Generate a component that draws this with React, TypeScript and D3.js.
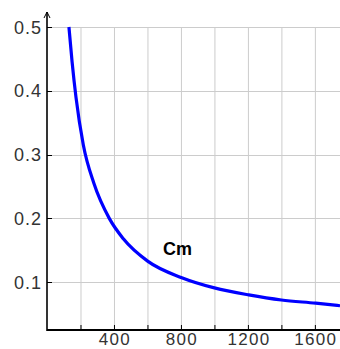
import React, { useRef, useEffect } from 'react';
import * as d3 from 'd3';

// values
const xValues = [131, 150, 173, 217, 280, 372, 456, 601, 805, 1000, 1205, 1400, 1605, 1750];
const cmValues = [0.5, 0.445, 0.39, 0.315, 0.255, 0.2, 0.168, 0.133, 0.107, 0.091, 0.08, 0.072, 0.067, 0.063];

const xGridTicks = [200, 400, 600, 800, 1000, 1200, 1400, 1600];
const xLabelTicks = [400, 800, 1200, 1600];
const yTicks = [0.1, 0.2, 0.3, 0.4, 0.5];
const seriesLabel = 'Cm';

const width = 340;
const height = 349;

const App: React.FC = () => {
  const svgRef = useRef<SVGSVGElement>(null);

  useEffect(() => {
    const svg = d3.select(svgRef.current);
    svg.selectAll('*').remove();

    const xScale = d3.scaleLinear().domain([0, 1750]).range([47, 340]);
    const yScale = d3.scaleLinear().domain([0.025, 0.5]).range([330, 27]);

    const gridColor = '#cccccc';
    const textColor = '#333333';
    const font = '"Liberation Sans", Arial, sans-serif';

    // Grid lines
    svg.selectAll('.grid-x')
      .data(xGridTicks)
      .enter()
      .append('line')
      .attr('x1', d => xScale(d) + 0.5)
      .attr('x2', d => xScale(d) + 0.5)
      .attr('y1', yScale(0.5))
      .attr('y2', yScale.range()[0])
      .attr('stroke', gridColor)
      .attr('stroke-width', 1);

    svg.selectAll('.grid-y')
      .data(yTicks)
      .enter()
      .append('line')
      .attr('x1', xScale(0))
      .attr('x2', width)
      .attr('y1', d => Math.round(yScale(d)) + 0.5)
      .attr('y2', d => Math.round(yScale(d)) + 0.5)
      .attr('stroke', gridColor)
      .attr('stroke-width', 1);

    // Axes
    const x0 = xScale(0);
    const yBase = yScale.range()[0];
    svg.append('line')
      .attr('x1', x0).attr('x2', width)
      .attr('y1', yBase).attr('y2', yBase)
      .attr('stroke', '#000').attr('stroke-width', 1.8);
    svg.append('line')
      .attr('x1', x0).attr('x2', x0)
      .attr('y1', yBase + 1).attr('y2', 12)
      .attr('stroke', '#000').attr('stroke-width', 1.6);
    svg.append('path')
      .attr('d', `M${x0 - 3},${18} L${x0},${12} L${x0 + 3},${18}`)
      .attr('fill', 'none')
      .attr('stroke', '#000')
      .attr('stroke-width', 1);

    // Ticks (inside)
    svg.selectAll('.tick-x')
      .data(xGridTicks)
      .enter()
      .append('line')
      .attr('x1', d => xScale(d) + 0.5)
      .attr('x2', d => xScale(d) + 0.5)
      .attr('y1', yBase)
      .attr('y2', yBase - 5)
      .attr('stroke', '#000')
      .attr('stroke-width', 1);

    svg.selectAll('.tick-y')
      .data(yTicks)
      .enter()
      .append('line')
      .attr('x1', x0)
      .attr('x2', x0 + 5)
      .attr('y1', d => Math.round(yScale(d)) + 0.5)
      .attr('y2', d => Math.round(yScale(d)) + 0.5)
      .attr('stroke', '#000')
      .attr('stroke-width', 1);

    // Tick labels
    svg.selectAll('.label-x')
      .data(xLabelTicks)
      .enter()
      .append('text')
      .attr('x', d => xScale(d) + 1)
      .attr('y', 345)
      .attr('text-anchor', 'middle')
      .attr('fill', textColor)
      .style('font-family', font)
      .style('font-size', '17px')
      .style('letter-spacing', '1.3px')
      .text(d => String(d));

    svg.selectAll('.label-y')
      .data(yTicks)
      .enter()
      .append('text')
      .attr('x', 42)
      .attr('y', d => yScale(d) + 6.5)
      .attr('text-anchor', 'end')
      .attr('fill', textColor)
      .style('font-family', font)
      .style('font-size', '18px')
      .style('letter-spacing', '1px')
      .text(d => d.toFixed(1));

    // Curve
    const points: [number, number][] = xValues.map((x, i) => [x, cmValues[i]]);
    const line = d3.line<[number, number]>()
      .x(d => xScale(d[0]))
      .y(d => yScale(d[1]))
      .curve(d3.curveMonotoneX);

    svg.append('path')
      .datum(points)
      .attr('d', line)
      .attr('fill', 'none')
      .attr('stroke', '#0000ff')
      .attr('stroke-width', 3.2);

    // Series label
    svg.append('text')
      .attr('x', 163)
      .attr('y', 255)
      .attr('fill', '#000')
      .style('font-family', font)
      .style('font-size', '18px')
      .style('font-weight', 'bold')
      .text(seriesLabel);
  }, []);

  return (
    <svg
      ref={svgRef}
      width={width}
      height={height}
      style={{ position: 'absolute', left: 0, top: 0, background: '#fff' }}
    />
  );
};

export default App;
